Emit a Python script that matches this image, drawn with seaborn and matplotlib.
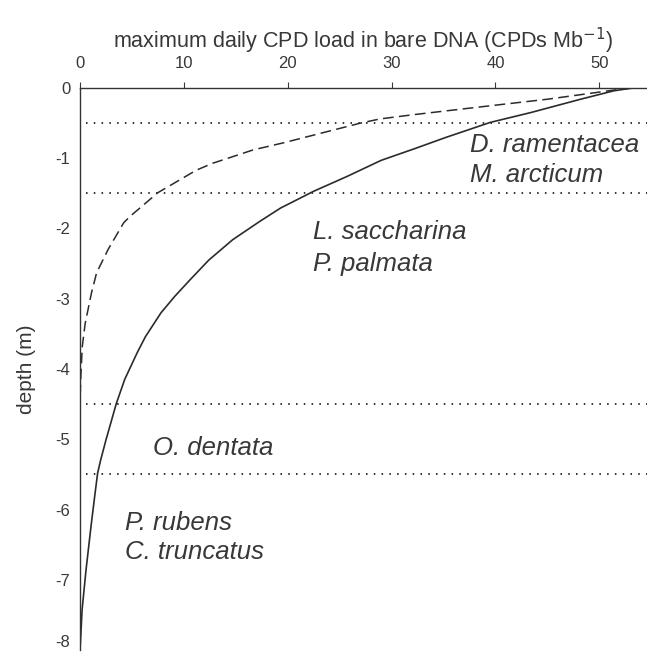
import numpy as np
import pandas as pd
import seaborn as sns
import matplotlib.pyplot as plt

# depth (m) and CPD load
solid_depth = [0, -0.04, -0.16, -0.35, -0.49, -0.70, -0.87, -1.03, -1.26, -1.47,
               -1.71, -1.90, -2.16, -2.45, -2.73, -2.97, -3.20, -3.54, -3.77,
               -4.15, -4.49, -5.01, -5.29, -5.48, -5.77, -6.24, -6.86, -7.43, -7.95]
solid_load = [53.2, 51.4, 48.2, 43.4, 39.5, 35.3, 32.1, 29.0, 25.7, 22.5,
              19.3, 17.3, 14.7, 12.4, 10.6, 9.1, 7.8, 6.3, 5.5,
              4.3, 3.5, 2.5, 2.0, 1.7, 1.45, 1.06, 0.58, 0.2, 0.02]

# dashed curve
dashed_depth = [0, -0.03, -0.16, -0.27, -0.38, -0.44, -0.50, -0.78, -0.88, -1.07,
                -1.17, -1.49, -1.83, -1.92, -2.30, -2.63, -2.92, -3.35, -3.68,
                -4.10, -4.45, -5.0, -6.0, -7.0, -8.0]
dashed_load = [53.2, 51.4, 45.0, 38.5, 32.1, 28.9, 27.0, 19.6, 16.7, 12.8,
               11.2, 7.5, 4.8, 4.2, 2.7, 1.6, 1.1, 0.5, 0.22,
               0.08, 0.0, 0.0, 0.0, 0.0, 0.0]

zone_depths = [-0.5, -1.5, -4.5, -5.5]

species = ["D. ramentacea", "M. arcticum", "L. saccharina", "P. palmata",
           "O. dentata", "P. rubens", "C. truncatus"]
species_x = [37.6, 37.6, 22.4, 22.4, 7.0, 4.3, 4.3]
species_y = [-0.905, -1.333, -2.15, -2.60, -5.22, -6.29, -6.71]

sns.set_style("white")
plt.rcParams['font.family'] = ['Liberation Sans', 'DejaVu Sans']
plt.rcParams['axes.unicode_minus'] = False

fig = plt.figure(figsize=(6.47, 6.52), dpi=100)
ax = fig.add_axes([80 / 647, 2 / 652, 1 - 80 / 647, (650 - 88) / 652])

line_col = "#2b2b2b"
txt_col = "#383838"
sns.lineplot(x=solid_load, y=solid_depth, sort=False, estimator=None,
             color=line_col, lw=1.2, ax=ax)
sns.lineplot(x=dashed_load, y=dashed_depth, sort=False, estimator=None,
             color=line_col, lw=1.1, ax=ax, linestyle=(0, (7, 3.5)))

for d in zone_depths:
    ax.axhline(d, xmin=0.01, xmax=1, color="#333333", lw=1.4,
               linestyle=(0, (0.8, 3.2)))

for name, sx, sy in zip(species, species_x, species_y):
    ax.text(sx, sy, name, fontsize=18.5, style="italic", color=txt_col,
            va="baseline", ha="left")

ax.set_xlim(0, 54.6)
ax.set_ylim(-8, 0)
ax.set_xticks([0, 10, 20, 30, 40, 50])
ax.set_yticks(range(-8, 1))
ax.xaxis.tick_top()
ax.xaxis.set_label_position("top")
ax.tick_params(axis="x", direction="out", length=4, width=0.8, pad=8,
               labelsize=12, colors=txt_col)
ax.tick_params(axis="y", direction="out", length=4, width=0.8, pad=3,
               labelsize=12, colors=txt_col)
ax.get_yticklabels()[0].set_va("bottom")
for s in ["right", "bottom"]:
    ax.spines[s].set_visible(False)
for s in ["left", "top"]:
    ax.spines[s].set_color("#333333")
    ax.spines[s].set_linewidth(1.0)

ax.set_xlabel("maximum daily CPD load in bare DNA (CPDs Mb$^{-1}$)",
              fontsize=15.5, color=txt_col, labelpad=6)
ax.set_ylabel("depth (m)", fontsize=15, color=txt_col, labelpad=14)

plt.savefig("out.png", dpi=100)
